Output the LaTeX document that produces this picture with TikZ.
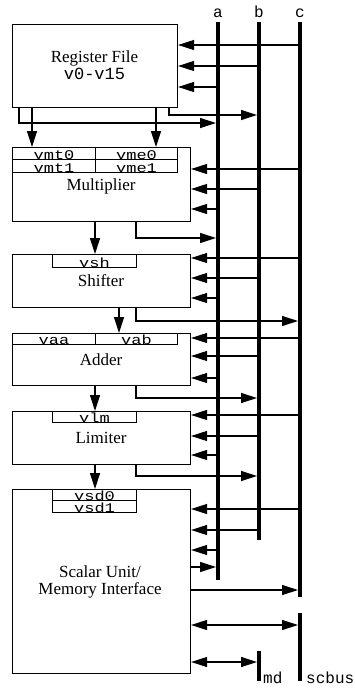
\documentclass[tikz,border=0pt]{standalone}
\usepackage{fontspec}
\setmainfont{Liberation Serif}
\setmonofont{Liberation Mono}
\usetikzlibrary{arrows.meta}
\begin{document}
\begin{tikzpicture}[x=1pt,y=-1pt,
  unitbox/.style={draw,line width=1.1pt,inner sep=0pt,anchor=north west,align=center,
    font=\fontsize{17}{17}\selectfont},
  regbox/.style={draw,line width=1.1pt,inner sep=0pt,anchor=north west},
  regtext/.style={anchor=base,inner sep=0pt,font=\ttfamily\fontsize{17}{17}\selectfont},
  buslabel/.style={inner sep=0pt,font=\ttfamily\fontsize{16}{16}\selectfont},
  bus/.style={line width=4pt},
  arr/.style={line width=1.2pt,-{Triangle[length=16pt,width=10pt]}},
  darr/.style={line width=1.2pt,{Triangle[length=16pt,width=10pt]}-{Triangle[length=16pt,width=10pt]}}]
\useasboundingbox (0,0) rectangle (355,688);
\newcommand{\rg}[1]{\scalebox{1}[0.78]{#1}}

% buses
\coordinate (at) at (218,22);  \coordinate (ab) at (218,580);
\coordinate (bt) at (259,22);  \coordinate (bb) at (259,540);
\coordinate (ct) at (300,22);  \coordinate (cb) at (300,597);
\coordinate (st) at (300,613); \coordinate (sb) at (300,681);
\coordinate (mt) at (259,651); \coordinate (mb) at (259,681);
\draw[bus] (at) -- (ab);
\draw[bus] (bt) -- (bb);
\draw[bus] (ct) -- (cb);
\draw[bus] (st) -- (sb);
\draw[bus] (mt) -- (mb);
\coordinate (aL) at (216,0);
\coordinate (bL) at (257,0);
\coordinate (cL) at (298,0);
\node[buslabel,anchor=base] (la) at (218,17) {a};
\node[buslabel,anchor=base] (lb) at (259,17) {b};
\node[buslabel,anchor=base] (lc) at (300,17) {c};
\node[buslabel,anchor=base west] (lmd) at (263,683) {md};
\node[buslabel,anchor=base west] (lsc) at (306,683) {scbus};

% units
\node[unitbox,minimum width=165pt,minimum height=83pt] (rf) at (12,24) {};
\node[font=\fontsize{17}{17}\selectfont,anchor=base] (rft1) at (94.5,62) {Register File};
\node[font=\ttfamily\fontsize{17}{17}\selectfont,anchor=base] (rft2) at (94.5,79) {v0-v15};

\node[unitbox,minimum width=178pt,minimum height=74pt] (mul) at (12,147) {};
\node[font=\fontsize{17}{17}\selectfont,anchor=base] (mult) at (101,190) {Multiplier};
\node[regbox,minimum width=83pt,minimum height=12pt] (vmt0) at (12,147) {};
\node[regbox,minimum width=82pt,minimum height=12pt] (vme0) at (95,147) {};
\node[regbox,minimum width=83pt,minimum height=13pt] (vmt1) at (12,159) {};
\node[regbox,minimum width=82pt,minimum height=13pt] (vme1) at (95,159) {};
\node[regtext] at ([yshift=1pt]vmt0.south) {\rg{vmt0}};
\node[regtext] at ([yshift=1pt]vme0.south) {\rg{vme0}};
\node[regtext] at ([yshift=1pt]vmt1.south) {\rg{vmt1}};
\node[regtext] at ([yshift=1pt]vme1.south) {\rg{vme1}};

\node[unitbox,minimum width=178pt,minimum height=53pt] (shf) at (12,254) {};
\node[font=\fontsize{17}{17}\selectfont,anchor=base] (shft) at (101,286) {Shifter};
\node[regbox,minimum width=84pt,minimum height=13pt] (vsh) at (52,254) {};
\node[regtext] at ([yshift=1pt]vsh.south) {\rg{vsh}};

\node[unitbox,minimum width=178pt,minimum height=52pt] (add) at (12,333) {};
\node[font=\fontsize{17}{17}\selectfont,anchor=base] (addt) at (101,365) {Adder};
\node[regbox,minimum width=83pt,minimum height=11pt] (vaa) at (12,333) {};
\node[regbox,minimum width=82pt,minimum height=11pt] (vab) at (95,333) {};
\node[regtext] at ([yshift=1pt]vaa.south) {\rg{vaa}};
\node[regtext] at ([yshift=1pt]vab.south) {\rg{vab}};

\node[unitbox,minimum width=178pt,minimum height=53pt] (lim) at (12,411) {};
\node[font=\fontsize{17}{17}\selectfont,anchor=base] (limt) at (101,443) {Limiter};
\node[regbox,minimum width=84pt,minimum height=11pt] (vlm) at (52,411) {};
\node[regtext] at ([yshift=1pt]vlm.south) {\rg{vlm}};

\node[unitbox,minimum width=178pt,minimum height=184pt] (scl) at (12,489) {};
\node[font=\fontsize{17}{17}\selectfont,anchor=base] (sclt1) at (100,577) {Scalar Unit/};
\node[font=\fontsize{17}{17}\selectfont,anchor=base] (sclt2) at (100,594) {Memory Interface};
\node[regbox,minimum width=84pt,minimum height=11pt] (vsd0) at (52,489) {};
\node[regbox,minimum width=84pt,minimum height=12pt] (vsd1) at (52,500) {};
\node[regtext] at ([yshift=1pt]vsd0.south) {\rg{vsd0}};
\node[regtext] at ([yshift=1pt]vsd1.south) {\rg{vsd1}};

% register file connections
\draw[arr] (ct |- 0,45) -- (rf.east |- 0,45);
\draw[arr] (bt |- 0,66) -- (rf.east |- 0,66);
\draw[arr] (at |- 0,87) -- (rf.east |- 0,87);
\draw[arr] (rf.south -| 19,0) -- (19,123) -- (aL |- 0,123);
\draw[arr] (rf.south -| 169,0) -- (169,115) -- (bL |- 0,115);
\draw[arr] (rf.south -| 32,0) -- (mul.north -| 32,0);
\draw[arr] (rf.south -| 156,0) -- (mul.north -| 156,0);

% multiplier
\draw[arr] (ct |- 0,169) -- (mul.east |- 0,169);
\draw[arr] (bt |- 0,189) -- (mul.east |- 0,189);
\draw[arr] (at |- 0,209) -- (mul.east |- 0,209);
\draw[arr] (mul.south -| 136,0) -- (136,238) -- (aL |- 0,238);
\draw[arr] (mul.south -| 95,0) -- (shf.north -| 95,0);

% shifter
\draw[arr] (ct |- 0,258) -- (shf.east |- 0,258);
\draw[arr] (bt |- 0,278) -- (shf.east |- 0,278);
\draw[arr] (at |- 0,298) -- (shf.east |- 0,298);
\draw[arr] (shf.south -| 136,0) -- (136,321) -- (cL |- 0,321);
\draw[arr] (shf.south -| 119,0) -- (add.north -| 119,0);

% adder
\draw[arr] (ct |- 0,338) -- (add.east |- 0,338);
\draw[arr] (bt |- 0,356) -- (add.east |- 0,356);
\draw[arr] (at |- 0,378) -- (add.east |- 0,378);
\draw[arr] (add.south -| 136,0) -- (136,398) -- (bL |- 0,398);
\draw[arr] (add.south -| 95,0) -- (lim.north -| 95,0);

% limiter
\draw[arr] (ct |- 0,415) -- (lim.east |- 0,415);
\draw[arr] (bt |- 0,436) -- (lim.east |- 0,436);
\draw[arr] (at |- 0,455) -- (lim.east |- 0,455);
\draw[arr] (lim.south -| 136,0) -- (136,476) -- (bL |- 0,476);
\draw[arr] (lim.south -| 95,0) -- (scl.north -| 95,0);

% scalar unit
\draw[arr] (ct |- 0,509) -- (scl.east |- 0,509);
\draw[arr] (bt |- 0,530) -- (scl.east |- 0,530);
\draw[arr] (at |- 0,550) -- (scl.east |- 0,550);
\draw[arr] (scl.east |- 0,567) -- (aL |- 0,567);
\draw[arr] (scl.east |- 0,590) -- (cL |- 0,590);
\draw[darr] (scl.east |- 0,625) -- (cL |- 0,625);
\draw[darr] (scl.east |- 0,662) -- (bL |- 0,662);
\end{tikzpicture}
\end{document}
